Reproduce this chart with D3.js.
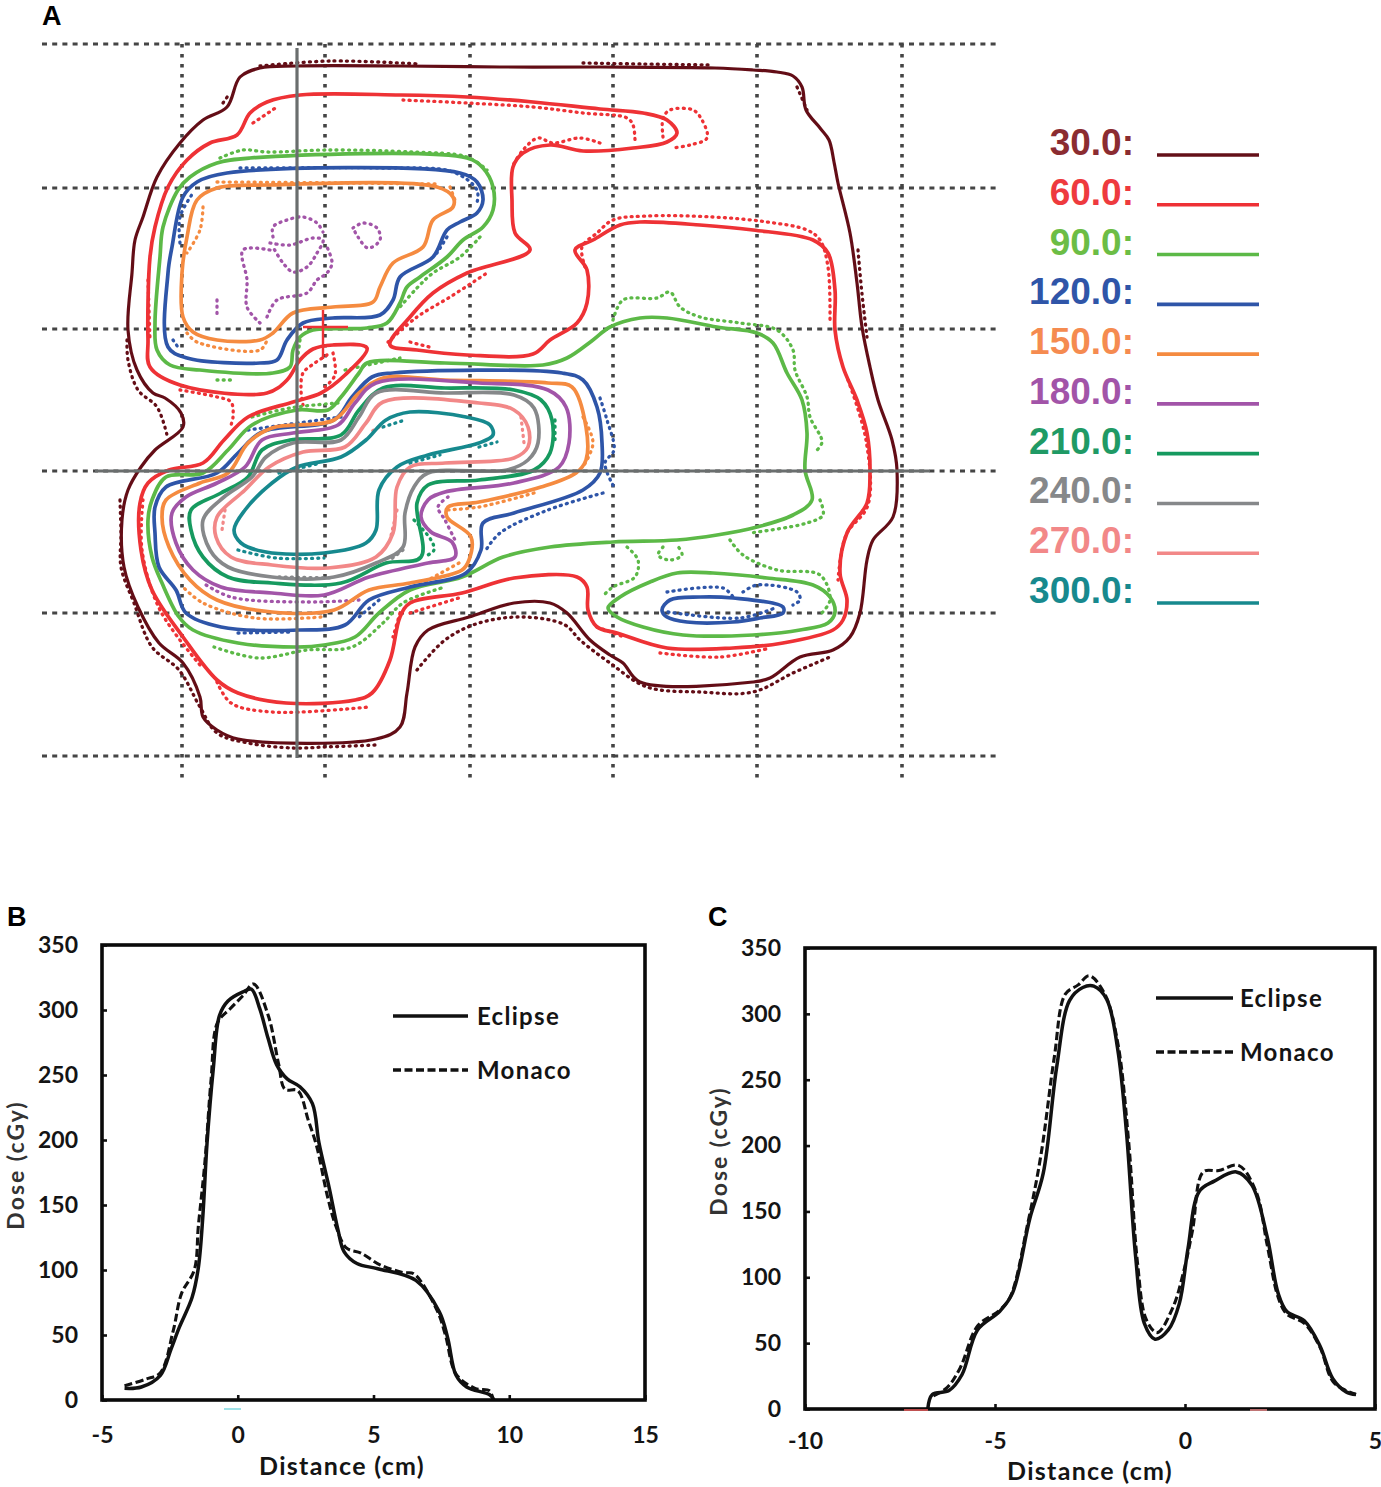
<!DOCTYPE html>
<html>
<head>
<meta charset="utf-8">
<style>
	body { margin: 0; background: #fff; }
	svg { display: block; }
	text { font-family: "Lato", sans-serif; font-weight: 700; fill: #141414; }
	.panel { font-family: "Liberation Sans", sans-serif; font-size: 27px; fill: #000; }
	.legendA { font-family: "Liberation Sans", sans-serif; font-size: 37px; }
</style>
<script src="https://d3js.org/d3.v7.min.js"></script>
</head>
<body>
<div id="chart"></div>
<script>

// dose levels of panel A
let doseLabels = ["30.0:", "60.0:", "90.0:", "120.0:", "150.0:", "180.0:", "210.0:", "240.0:", "270.0:", "300.0:"];

// grid lines and crosshair of panel A, in plane units
let gridXValues = [0, 143, 288, 431, 575, 720];
let gridYValues = [0, 144, 285, 427, 569, 712];
let crossX = 115, crossY = 427;
let markerX = 141, markerY = 283;

// solid contours (Eclipse), [x, y]
let solid30 = [[78,24],[115,22],[218,22],[318,23],[418,23],[533,24],[571,26],[595,28],[611,32],[620,43],[624,66],[638,84],[647,96],[652,118],[656,139],[668,189],[675,239],[680,283],[688,323],[696,356],[710,396],[715,426],[711,473],[691,496],[685,516],[678,569],[668,593],[651,606],[618,613],[588,634],[571,638],[458,638],[441,619],[428,611],[408,596],[385,569],[368,559],[332,559],[287,573],[246,586],[233,603],[225,649],[218,683],[194,695],[56,695],[35,686],[21,673],[18,653],[1,619],[-23,599],[-44,563],[-58,523],[-60,476],[-54,446],[-41,423],[-27,406],[1,383],[-1,369],[-17,354],[-29,349],[-45,326],[-54,286],[-50,229],[-47,196],[-39,173],[-25,133],[-2,99],[21,76],[45,63],[58,33]];
let solid60 = [[85,58],[118,51],[218,51],[285,53],[351,58],[418,65],[461,69],[485,76],[495,89],[485,98],[451,104],[401,107],[368,101],[341,109],[331,123],[330,156],[333,189],[348,206],[285,229],[251,249],[228,273],[208,301],[235,306],[285,311],[351,310],[368,296],[395,279],[405,259],[405,226],[393,206],[411,196],[438,181],[458,178],[518,181],[571,186],[631,196],[646,209],[653,246],[653,286],[661,323],[675,356],[685,389],[688,429],[685,459],[665,489],[658,529],[665,556],[661,576],[651,586],[601,599],[551,604],[485,604],[435,589],[415,583],[406,566],[405,543],[395,533],[332,534],[280,549],[228,559],[218,573],[208,616],[190,649],[173,656],[104,659],[56,649],[35,636],[1,593],[-30,546],[-41,506],[-42,459],[-34,439],[-13,426],[21,419],[42,396],[66,373],[111,358],[139,349],[163,331],[185,304],[151,301],[131,305],[118,316],[105,336],[85,349],[-2,341],[-32,323],[-34,296],[-32,213],[-27,183],[-14,143],[5,116],[28,99],[55,91],[68,69]];
let solid90a = [[285,114],[301,124],[311,143],[311,166],[301,183],[281,196],[265,213],[238,233],[225,243],[218,259],[205,279],[185,284],[131,286],[118,293],[111,306],[108,323],[91,329],[18,326],[-12,321],[-25,306],[-27,279],[-22,213],[-19,183],[-4,146],[8,133],[35,119],[68,114]];
let solid90b = [[185,319],[263,319],[361,321],[385,314],[411,296],[428,283],[458,274],[485,274],[535,283],[575,289],[591,299],[605,329],[620,356],[625,389],[623,426],[630,456],[611,471],[575,483],[535,491],[495,496],[431,498],[368,503],[321,513],[280,533],[228,546],[197,569],[173,593],[142,601],[115,603],[56,599],[11,586],[-3,573],[-20,539],[-30,513],[-34,476],[-30,456],[-16,433],[21,429],[46,406],[70,381],[115,366],[146,366],[159,353],[177,329]];
let solid90c = [[426,564],[438,553],[468,538],[495,529],[531,529],[585,534],[631,541],[648,553],[653,568],[646,579],[618,586],[571,591],[501,591],[461,583],[435,573]];
let solid120a = [[278,129],[295,138],[301,156],[295,169],[278,178],[265,186],[251,213],[218,233],[211,256],[198,271],[151,274],[121,279],[105,296],[95,316],[78,319],[5,314],[-14,303],[-14,229],[-10,203],[1,153],[15,138],[45,129]];
let solid120b = [[190,333],[211,329],[380,329],[401,336],[415,363],[420,399],[418,429],[401,446],[332,469],[301,479],[299,506],[284,529],[228,543],[187,556],[163,581],[118,586],[39,583],[4,569],[-6,546],[-23,523],[-27,489],[-27,463],[-16,443],[35,429],[56,409],[80,388],[152,376],[170,353]];
let solid120c = [[480,566],[488,556],[518,553],[551,554],[601,563],[601,569],[578,574],[551,578],[505,578],[485,573]];
let solid150a = [[255,143],[271,153],[271,163],[251,176],[241,203],[211,219],[198,243],[191,258],[151,263],[111,269],[91,289],[78,296],[35,296],[11,288],[1,273],[0,229],[5,193],[15,156],[35,144],[85,141]];
let solid150b = [[201,334],[263,336],[366,339],[390,343],[404,383],[404,416],[394,429],[359,443],[297,458],[266,463],[265,473],[289,493],[287,516],[280,526],[228,539],[187,546],[152,566],[90,568],[35,556],[8,536],[-13,503],[-20,473],[-16,456],[18,439],[46,429],[66,399],[90,384],[152,376],[177,349]];
let solid180 = [[194,339],[297,339],[366,346],[384,363],[387,399],[377,423],[332,439],[263,448],[246,456],[239,473],[249,488],[270,498],[273,513],[246,519],[187,533],[142,551],[90,549],[39,543],[11,526],[-6,499],[-10,469],[4,453],[35,439],[63,423],[80,396],[111,389],[156,381],[173,359]];
let solid210 = [[201,344],[263,344],[332,346],[359,356],[370,376],[368,409],[352,426],[297,436],[246,441],[235,459],[239,513],[204,519],[159,539],[90,539],[46,533],[21,513],[9,486],[9,466],[39,449],[66,433],[80,406],[108,396],[159,391],[177,366]];
let solid240 = [[194,349],[263,349],[332,351],[352,364],[356,399],[346,416],[325,426],[246,429],[232,443],[223,469],[221,503],[194,519],[152,533],[90,533],[46,523],[28,506],[21,476],[42,453],[70,433],[84,413],[111,399],[159,396],[177,373]];
let solid270 = [[201,358],[297,359],[332,366],[346,383],[346,403],[332,414],[263,419],[228,423],[215,443],[211,489],[194,513],[146,524],[90,521],[49,513],[34,493],[35,473],[63,446],[87,423],[121,408],[163,403],[184,379]];
let solid300 = [[204,376],[228,368],[284,373],[308,381],[311,391],[297,399],[246,411],[215,423],[197,446],[194,486],[184,499],[142,509],[84,508],[59,499],[52,486],[63,466],[90,439],[115,423],[159,413],[184,396]];

// dotted contours (Monaco), only where they separate from the solid ones
let dotted30 = [
	[[-55,296],[-54,316],[-44,346],[-25,363],[-15,391]],
	[[-62,456],[-61,490],[-61,523],[-48,559],[-30,603],[-3,626],[18,663],[35,689],[66,699],[111,704],[142,703],[193,701]],
	[[235,626],[263,596],[297,579],[342,573],[383,581],[398,596],[428,619],[465,643],[518,648],[571,648],[611,629],[648,613]],
	[[78,22],[148,17],[238,20]],
	[[401,19],[461,20],[531,21]],
	[[615,43],[625,66]],
	[[676,206],[680,250],[685,293]],
	[[41,59],[48,49]]
];
let dotted60 = [
	[[221,56],[285,59],[351,63],[401,69],[445,74],[451,81],[453,96]],
	[[481,93],[481,74],[488,66],[511,66],[520,76],[525,94],[508,101],[491,104]],
	[[418,99],[398,94],[371,99],[356,94],[341,106],[330,123]],
	[[403,223],[400,203],[415,189],[431,176],[465,172],[531,173],[585,178],[625,186],[638,196],[646,223],[648,279]],
	[[71,79],[95,63]],
	[[206,298],[235,273],[268,253],[305,229]],
	[[228,298],[251,304]],
	[[151,309],[153,331],[143,343]],
	[[145,311],[130,321],[121,329],[119,346],[121,361]],
	[[-2,346],[35,353],[49,358],[51,373],[49,381]],
	[[35,638],[49,659],[90,668],[187,663]],
	[[218,569],[211,593]],
	[[228,569],[280,553]],
	[[478,609],[538,613],[588,604]],
	[[415,583],[442,593]],
	[[666,336],[684,396],[686,461],[664,491],[656,536]],
	[[-34,236],[-32,296]],
	[[-39,456],[-40,506],[-22,566],[18,621]]
];
let dotted90 = [
	[[38,114],[61,106],[85,108],[145,106],[231,108],[285,113],[305,126]],
	[[298,193],[278,213],[251,229],[235,244],[218,263]],
	[[35,336],[51,336]],
	[[118,296],[115,318]],
	[[431,276],[441,256],[475,254],[488,248],[498,263],[518,273],[558,279],[595,286],[611,306],[613,326],[625,353],[628,373],[640,398],[633,408]],
	[[638,456],[641,471],[625,479],[568,489]],
	[[548,496],[561,511],[595,526],[638,531],[648,556],[638,571]],
	[[445,503],[456,516],[453,533],[431,543],[420,553]],
	[[481,503],[476,511],[488,516],[500,511],[495,501]],
	[[32,603],[77,614],[125,606],[170,603],[201,579],[221,559],[263,543]],
	[[70,373],[108,364],[156,359]],
	[[163,326],[218,314]]
];
let dotted120 = [
	[[418,354],[425,376],[432,406],[423,419],[432,443]],
	[[421,449],[366,466],[318,489],[304,506]],
	[[197,556],[177,573]],
	[[56,589],[111,588]],
	[[66,386],[159,373]],
	[[485,548],[541,544],[551,553]],
	[[561,548],[575,541],[615,548],[618,556],[611,561]],
	[[486,568],[558,574],[593,564]],
	[[58,124],[85,124],[198,124],[271,128],[295,146],[295,159]],
	[[265,193],[255,209]],
	[[-2,199],[-2,173],[11,149]],
	[[-9,296],[-2,306]]
];
let dotted150 = [
	[[268,143],[273,156]],
	[[35,138],[168,139],[258,140]],
	[[21,163],[18,186],[5,209]],
	[[5,289],[15,298],[78,306],[85,296]],
	[[401,373],[411,399],[401,423]],
	[[352,449],[297,463],[263,466]],
	[[277,519],[228,546]],
	[[139,573],[73,574],[21,559],[1,543]]
];
let dotted180 = [
	[[266,453],[256,463],[263,476],[273,496]],
	[[177,556],[125,558],[49,553],[21,539]],
	[[91,193],[91,183],[105,176],[121,173],[135,179],[141,188]],
	[[88,199],[108,201],[131,194],[141,196],[135,209],[125,223],[111,228],[101,219],[91,203]],
	[[88,206],[61,206],[65,236],[65,263],[78,279]],
	[[85,273],[95,256],[125,249],[135,236],[145,229],[150,219],[145,203]],
	[[35,256],[35,273]],
	[[171,184],[181,179],[195,184],[198,196],[186,204],[176,193],[171,184]]
];
let dotted210 = [
	[[373,376],[373,399]],
	[[232,476],[249,496],[252,506],[242,513]]
];
let dotted240 = [
	[[221,506],[208,516]],
	[[97,533],[149,534]]
];
let dotted270 = [
	[[339,373],[342,399]],
	[[215,466],[208,496]],
	[[197,383],[187,389]],
	[[43,466],[40,486]]
];
let dotted300 = [
	[[201,383],[223,376]],
	[[297,403],[315,398]],
	[[228,419],[258,411]],
	[[97,429],[139,419]],
	[[56,506],[94,514],[142,514]]
];

// profile panel B, distance (cm) and dose (cGy)
let profileBEclipse = [[-4.17,9],[-3.55,10],[-2.85,19],[-2.46,39],[-2.15,56],[-1.68,79],[-1.45,102],[-1.29,140],[-1.13,198],[-0.9,255],[-0.67,296],[-0.36,307],[0.19,314],[0.5,316],[0.81,301],[1.12,278],[1.43,258],[1.82,247],[2.29,241],[2.75,228],[2.99,198],[3.37,163],[3.69,131],[3.92,114],[4.39,105],[5.16,101],[6.56,92],[7.42,68],[7.73,48],[8.04,19],[8.43,10],[9.28,4],[9.44,0]];
let profileBMonaco = [[-4.17,11],[-3.39,16],[-2.85,21],[-2.38,53],[-2.07,82],[-1.6,100],[-1.45,134],[-1.21,183],[-0.98,247],[-0.75,290],[-0.28,301],[0.19,311],[0.58,320],[1.12,296],[1.51,258],[1.74,239],[2.21,238],[2.6,215],[2.91,195],[3.3,157],[3.61,134],[4.0,117],[4.54,113],[5.24,104],[6.1,98],[6.49,97],[7.34,69],[7.65,50],[8.04,20],[8.74,9],[9.28,7],[9.39,1]];

// profile panel C
let profileCEclipse = [[-6.77,0],[-6.65,11],[-6.21,14],[-5.87,26],[-5.46,60],[-4.88,74],[-4.54,88],[-4.08,145],[-3.73,179],[-3.38,259],[-3.04,310],[-2.69,320],[-2.4,321],[-2.06,311],[-1.77,273],[-1.54,210],[-1.3,116],[-1.07,65],[-0.79,53],[-0.44,60],[-0.15,80],[0.08,122],[0.37,165],[0.77,173],[1.35,180],[1.76,170],[2.16,131],[2.45,88],[2.68,74],[3.14,67],[3.55,48],[3.89,23],[4.24,13],[4.5,11]];
let profileCMonaco = [[-6.62,10],[-6.27,16],[-5.92,31],[-5.46,63],[-4.88,75],[-4.6,85],[-4.13,142],[-3.79,193],[-3.44,267],[-3.15,315],[-2.81,322],[-2.52,329],[-2.11,315],[-1.77,278],[-1.48,202],[-1.25,111],[-1.02,68],[-0.73,58],[-0.32,77],[-0.03,105],[0.2,136],[0.48,180],[0.89,181],[1.41,185],[1.87,165],[2.16,125],[2.45,85],[2.68,72],[3.14,65],[3.55,47],[3.89,21],[4.24,14],[4.5,11]];

let doseTicks = [0, 50, 100, 150, 200, 250, 300, 350];
let distanceTicksB = [-5, 0, 5, 10, 15];
let distanceTicksC = [-10, -5, 0, 5];

// colours of the dose levels
let doseColors = ["#641018", "#ee3035", "#5cb947", "#2f55a8", "#f58b40", "#a254a8", "#159a5f", "#86888a", "#f28888", "#17898e"];
let labelColors = ["#8b2c31", "#ee3a3e", "#6cbd45", "#2f55a8", "#f58b50", "#a254a8", "#1f9a65", "#86888a", "#f28888", "#17898e"];

let solidSets = [
	[solid30], [solid60], [solid90a, solid90b, solid90c], [solid120a, solid120b, solid120c],
	[solid150a, solid150b], [solid180], [solid210], [solid240], [solid270], [solid300]
];
let dottedSets = [dotted30, dotted60, dotted90, dotted120, dotted150, dotted180, dotted210, dotted240, dotted270, dotted300];

let svg = d3.select("#chart").append("svg")
	.attr("width", 1381)
	.attr("height", 1487);

let defs = svg.append("defs");
defs.append("filter").attr("id", "soft")
	.attr("x", "-5%").attr("y", "-5%").attr("width", "110%").attr("height", "110%")
	.append("feGaussianBlur").attr("stdDeviation", 0.55);

drawContours();
drawDoseLegend();
drawProfile({
	x0: 102, x1: 645, y0: 1400, y1: 945,
	domain: [-5, 15], ticks: distanceTicksB,
	eclipse: profileBEclipse, monaco: profileBMonaco,
	tickPad: 27, xLabelX: 342, xLabelY: 1475, yLabelX: 24, yLabelY: 1165,
	legendX: 393, legendLine: 75, legendText: 477, legendY: [1016, 1070]
});
drawProfile({
	x0: 805, x1: 1375, y0: 1409, y1: 948,
	domain: [-10, 5], ticks: distanceTicksC,
	eclipse: profileCEclipse, monaco: profileCMonaco,
	tickPad: 24, xLabelX: 1090, xLabelY: 1480, yLabelX: 727, yLabelY: 1151,
	legendX: 1156, legendLine: 77, legendText: 1240, legendY: [998, 1052]
});

// panel letters
svg.append("text").attr("class", "panel").attr("x", 42).attr("y", 25).text("A");
svg.append("text").attr("class", "panel").attr("x", 7).attr("y", 926).text("B");
svg.append("text").attr("class", "panel").attr("x", 708).attr("y", 926).text("C");

// stray marks that are in the figure under the axes
let strayMarks = [[224, 241, 1409, "#7fd8e0"], [904, 928, 1410, "#ee5a5a"], [1250, 1267, 1410, "#ee8a8a"]];
svg.selectAll(".stray").data(strayMarks).enter().append("line")
	.attr("class", "stray")
	.attr("x1", d => d[0]).attr("x2", d => d[1])
	.attr("y1", d => d[2]).attr("y2", d => d[2])
	.attr("stroke", d => d[3]).attr("stroke-width", 1.5);


function drawContours() {
	let xScale = d3.scaleLinear().domain([0, 720]).range([182, 902]);
	let yScale = d3.scaleLinear().domain([0, 712]).range([44, 756]);

	let g = svg.append("g").attr("filter", "url(#soft)");

	// dashed grid
	g.selectAll(".gridH").data(gridYValues).enter().append("line")
		.attr("class", "gridH")
		.attr("x1", xScale(-140)).attr("x2", xScale(815))
		.attr("y1", d => yScale(d)).attr("y2", d => yScale(d))
		.attr("stroke", "#444").attr("stroke-width", 2.8)
		.attr("stroke-dasharray", "5 5.2");
	g.selectAll(".gridV").data(gridXValues).enter().append("line")
		.attr("class", "gridV")
		.attr("x1", d => xScale(d)).attr("x2", d => xScale(d))
		.attr("y1", yScale(0)).attr("y2", yScale(734))
		.attr("stroke", "#444").attr("stroke-width", 3.6)
		.attr("stroke-dasharray", "3.4 6.6");

	let closed = d3.line().x(d => xScale(d[0])).y(d => yScale(d[1])).curve(d3.curveCatmullRomClosed.alpha(0.5));
	let open = d3.line().x(d => xScale(d[0])).y(d => yScale(d[1])).curve(d3.curveCatmullRom.alpha(0.5));

	// monaco first, eclipse on top
	dottedSets.forEach((set, i) => {
		g.selectAll(".dot" + i).data(set).enter().append("path")
			.attr("class", "dot" + i)
			.attr("d", open)
			.attr("fill", "none")
			.attr("stroke", doseColors[i])
			.attr("stroke-width", 3.3)
			.attr("stroke-linecap", "round")
			.attr("stroke-dasharray", "1 5.2");
	});
	solidSets.forEach((set, i) => {
		g.selectAll(".solid" + i).data(set).enter().append("path")
			.attr("class", "solid" + i)
			.attr("d", closed)
			.attr("fill", "none")
			.attr("stroke", doseColors[i])
			.attr("stroke-width", i == 0 ? 3.2 : 3.7);
	});

	// isocentre crosshair
	g.append("line")
		.attr("x1", xScale(crossX)).attr("x2", xScale(crossX))
		.attr("y1", yScale(4)).attr("y2", yScale(714))
		.attr("stroke", "#6a6e6e").attr("stroke-width", 3.2);
	g.append("line")
		.attr("x1", xScale(-87)).attr("x2", xScale(748))
		.attr("y1", yScale(crossY)).attr("y2", yScale(crossY))
		.attr("stroke", "#6a6e6e").attr("stroke-width", 3);

	// small red marker
	g.append("line")
		.attr("x1", xScale(markerX)).attr("x2", xScale(markerX))
		.attr("y1", yScale(markerY - 17)).attr("y2", yScale(markerY + 32))
		.attr("stroke", doseColors[1]).attr("stroke-width", 2.4);
	g.append("line")
		.attr("x1", xScale(markerX - 20)).attr("x2", xScale(markerX + 25))
		.attr("y1", yScale(markerY)).attr("y2", yScale(markerY))
		.attr("stroke", doseColors[1]).attr("stroke-width", 2.4);
}


function drawDoseLegend() {
	let row = d3.scaleLinear().domain([0, 9]).range([155, 603]);

	let g = svg.append("g");
	g.selectAll("text").data(doseLabels).enter().append("text")
		.attr("class", "legendA")
		.attr("x", 1134)
		.attr("y", (d, i) => row(i))
		.attr("text-anchor", "end")
		.style("fill", (d, i) => labelColors[i])
		.text(d => d);
	g.selectAll("line").data(doseLabels).enter().append("line")
		.attr("x1", 1157).attr("x2", 1259)
		.attr("y1", (d, i) => row(i)).attr("y2", (d, i) => row(i))
		.attr("stroke", (d, i) => doseColors[i])
		.attr("stroke-width", 3.6);
}


function drawProfile(p) {
	let x = d3.scaleLinear().domain(p.domain).range([p.x0, p.x1]);
	let y = d3.scaleLinear().domain([0, 350]).range([p.y0, p.y1]);
	let curve = d3.line().x(d => x(d[0])).y(d => y(d[1])).curve(d3.curveCatmullRom.alpha(0.5));

	svg.append("path").datum(p.monaco)
		.attr("d", curve).attr("fill", "none")
		.attr("stroke", "#111").attr("stroke-width", 3.1)
		.attr("stroke-dasharray", "8 3.5");
	svg.append("path").datum(p.eclipse)
		.attr("d", curve).attr("fill", "none")
		.attr("stroke", "#111").attr("stroke-width", 3.5);

	let xAxis = d3.axisBottom(x).tickValues(p.ticks).tickFormat(d => String(d)).tickSize(-5).tickPadding(p.tickPad);
	let yAxis = d3.axisLeft(y).tickValues(doseTicks).tickSize(-5).tickPadding(24);

	let gx = svg.append("g").attr("transform", "translate(0," + p.y0 + ")").call(xAxis);
	let gy = svg.append("g").attr("transform", "translate(" + p.x0 + ",0)").call(yAxis);
	[gx, gy].forEach(a => {
		a.select(".domain").remove();
		a.selectAll("text").style("font-size", "23px").style("font-family", '"Lato", sans-serif');
		a.selectAll("line").attr("stroke", "#111").attr("stroke-width", 2.6);
	});

	// box around the plot
	svg.append("rect")
		.attr("x", p.x0).attr("y", p.y1)
		.attr("width", p.x1 - p.x0).attr("height", p.y0 - p.y1)
		.attr("fill", "none").attr("stroke", "#0a0a0a").attr("stroke-width", 3.6);

	svg.append("text")
		.attr("x", p.xLabelX).attr("y", p.xLabelY)
		.attr("text-anchor", "middle")
		.style("font-size", "25px")
		.style("letter-spacing", "1.3px")
		.text("Distance (cm)");

	let yl = svg.append("text")
		.attr("transform", "translate(" + p.yLabelX + "," + p.yLabelY + ") rotate(-90)")
		.attr("text-anchor", "middle")
		.style("font-size", "23px")
		.style("letter-spacing", "2px")
		.style("fill", "#333");
	yl.text("Dose (cGy)");

	// legend
	let names = ["Eclipse", "Monaco"];
	names.forEach((name, i) => {
		svg.append("line")
			.attr("x1", p.legendX).attr("x2", p.legendX + p.legendLine)
			.attr("y1", p.legendY[i]).attr("y2", p.legendY[i])
			.attr("stroke", "#111").attr("stroke-width", i == 0 ? 3.6 : 3.3)
			.attr("stroke-dasharray", i == 0 ? null : "8 3.5");
		svg.append("text")
			.attr("x", p.legendText).attr("y", p.legendY[i] + 9)
			.style("font-size", "24px")
			.style("letter-spacing", "1.3px")
			.text(name);
	});
}
</script>
</body>
</html>
